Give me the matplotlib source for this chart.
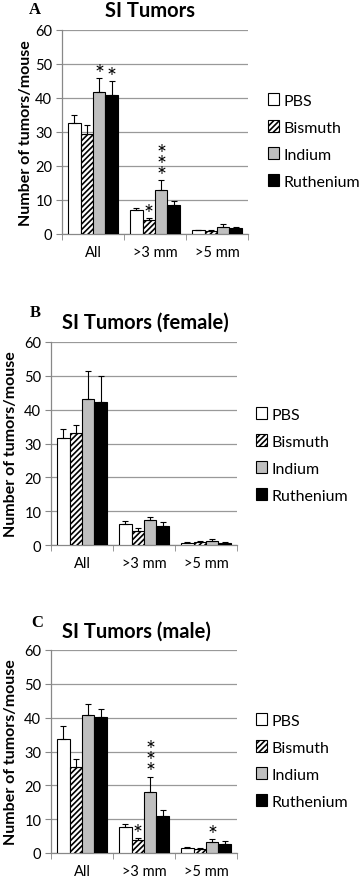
import matplotlib
matplotlib.use("Agg")
import matplotlib.pyplot as plt
import numpy as np

categories = ["All", ">3 mm", ">5 mm"]
series = ["PBS", "Bismuth", "Indium", "Ruthenium"]
yticks = [0, 10, 20, 30, 40, 50, 60]

# Panel A
A_vals = {"PBS": [32.7, 7.1, 1.1], "Bismuth": [29.5, 4.0, 1.0],
          "Indium": [41.8, 13.0, 2.2], "Ruthenium": [41.0, 8.5, 1.7]}
A_err = {"PBS": [2.3, 0.6, 0.2], "Bismuth": [2.5, 0.7, 0.3],
         "Indium": [4.0, 2.8, 0.6], "Ruthenium": [3.9, 1.2, 0.5]}
A_stars = {("Indium", 0): "*", ("Ruthenium", 0): "*", ("Bismuth", 1): "*", ("Indium", 1): "*\n*\n*"}

# Panel B
B_vals = {"PBS": [31.5, 6.3, 0.6], "Bismuth": [33.0, 4.2, 0.8],
          "Indium": [43.1, 7.3, 1.1], "Ruthenium": [42.2, 5.5, 0.5]}
B_err = {"PBS": [2.7, 0.9, 0.2], "Bismuth": [2.5, 0.7, 0.3],
         "Indium": [8.3, 1.1, 0.6], "Ruthenium": [7.7, 1.3, 0.5]}
B_stars = {}

# Panel C
C_vals = {"PBS": [33.8, 7.8, 1.5], "Bismuth": [25.5, 3.8, 1.2],
          "Indium": [40.8, 18.0, 3.2], "Ruthenium": [40.1, 11.0, 2.7]}
C_err = {"PBS": [3.8, 0.9, 0.2], "Bismuth": [2.2, 0.6, 0.2],
         "Indium": [3.3, 4.5, 0.9], "Ruthenium": [2.5, 1.6, 0.8]}
C_stars = {("Bismuth", 1): "*", ("Indium", 1): "*\n*\n*", ("Indium", 2): "*"}

styles = {"PBS": dict(facecolor="white", hatch=None),
          "Bismuth": dict(facecolor="white", hatch="//////"),
          "Indium": dict(facecolor="#bfbfbf", hatch=None),
          "Ruthenium": dict(facecolor="black", hatch=None)}

W, H = 362, 879
fig = plt.figure(figsize=(W / 100, H / 100), dpi=100)
plt.rcParams['hatch.linewidth'] = 1.2
FONT = ["Lato", "DejaVu Sans"]

def px_axes(l, r, t, b):
    return fig.add_axes([l / W, 1 - b / H, (r - l) / W, (b - t) / H])

panels = [
    dict(vals=A_vals, err=A_err, stars=A_stars, box=(62, 248, 31, 235), title="SI Tumors",
         title_xy=(150, 11), letter="A", letter_xy=(35, 10), ylab_x=33,
         leg_xy=(268, 142)),
    dict(vals=B_vals, err=B_err, stars=B_stars, box=(51, 237, 343, 546), title="SI Tumors (female)",
         title_xy=(145, 323), letter="B", letter_xy=(35, 313), ylab_x=18,
         leg_xy=(256, 456)),
    dict(vals=C_vals, err=C_err, stars=C_stars, box=(51, 237, 651, 854), title="SI Tumors (male)",
         title_xy=(136, 632), letter="C", letter_xy=(37, 623), ylab_x=18,
         leg_xy=(256, 762)),
]

bw = 0.2
x = np.arange(len(categories))
for p in panels:
    l, r, t, b = p["box"]
    ax = px_axes(l, r, t, b)
    handles = []
    for i, s in enumerate(series):
        xs = x + (i - 1.5) * bw
        st = styles[s]
        bars = ax.bar(xs, p["vals"][s], width=bw, facecolor=st["facecolor"], edgecolor="black",
                      hatch=st["hatch"], linewidth=0.8, zorder=3, label=s)
        handles.append(bars)
        ax.errorbar(xs, p["vals"][s], yerr=[np.zeros(3), p["err"][s]], fmt="none",
                    ecolor="black", elinewidth=0.8, capsize=2.5, capthick=0.8, zorder=4)
        for j in range(3):
            key = (s, j)
            if key in p["stars"]:
                ax.annotate(p["stars"][key], (xs[j], p["vals"][s][j] + p["err"][s][j]),
                            xytext=(0, -4), textcoords="offset points", ha="center", va="bottom",
                            fontsize=17, linespacing=0.42, family=FONT, zorder=5)
    ax.set_xlim(-0.5, 2.5)
    ax.set_ylim(0, 60)
    ax.set_yticks(yticks)
    ax.set_yticklabels([str(v) for v in yticks], fontsize=10.5, family=FONT)
    ax.set_xticks(x)
    ax.set_xticklabels(categories, fontsize=10.5, family=FONT)
    ax.set_xticks([-0.5, 0.5, 1.5, 2.5], minor=True)
    ax.tick_params(axis="x", which="major", length=0, pad=8)
    ax.tick_params(axis="x", which="minor", length=4, color="#888888", direction="out")
    ax.tick_params(axis="y", length=4, color="#888888", direction="out", pad=3)
    ax.grid(axis="y", color="#999999", linewidth=0.9, zorder=0)
    for sp in ["top", "right"]:
        ax.spines[sp].set_visible(False)
    for sp in ["left", "bottom"]:
        ax.spines[sp].set_color("#888888")
        ax.spines[sp].set_linewidth(0.9)
    ax.set_ylabel("Number of tumors/mouse", fontsize=11.5, fontweight="bold", family=FONT)
    ax.yaxis.set_label_coords(p["ylab_x"] / W, 1 - ((t + b) / 2) / H, transform=fig.transFigure)
    fig.text(p["title_xy"][0] / W, 1 - p["title_xy"][1] / H, p["title"], ha="center", va="center",
             fontsize=14.5, fontweight="bold", family=FONT)
    fig.text(p["letter_xy"][0] / W, 1 - p["letter_xy"][1] / H, p["letter"], ha="center", va="center",
             fontsize=12, fontweight="bold", family=["Liberation Serif"])
    ax.legend(handles=handles, loc="center left",
              bbox_to_anchor=(p["leg_xy"][0] / W, 1 - p["leg_xy"][1] / H),
              bbox_transform=fig.transFigure, frameon=False,
              prop=dict(family=FONT, size=11.5), handlelength=0.7, handleheight=0.7,
              handletextpad=0.25, labelspacing=0.8, borderpad=0, borderaxespad=0)

fig.savefig("out.png", dpi=100)
